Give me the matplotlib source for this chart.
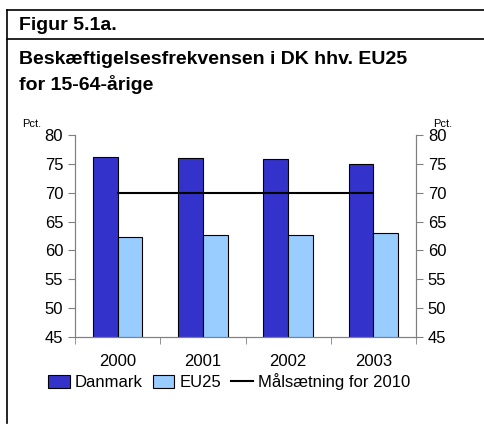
import matplotlib
matplotlib.use('Agg')
import matplotlib.pyplot as plt
import numpy as np
from matplotlib.lines import Line2D

years = ['2000', '2001', '2002', '2003']
danmark = [76.2, 76.1, 75.8, 75.0]
eu25 = [62.4, 62.7, 62.7, 63.0]
target = [70, 70, 70, 70]

plt.rcParams['font.family'] = ['Liberation Sans', 'DejaVu Sans']

W, H = 484, 426
fig = plt.figure(figsize=(W / 100, H / 100), dpi=100)

# frame lines around the figure text
fig.add_artist(Line2D([7 / W, 1], [1 - 10 / H, 1 - 10 / H], color='black', lw=1.2))
fig.add_artist(Line2D([7 / W, 1], [1 - 39 / H, 1 - 39 / H], color='black', lw=1.2))
fig.add_artist(Line2D([7 / W, 7 / W], [1 - 10 / H, 1 - 423 / H], color='black', lw=1.2))

fig.text(19 / W, 1 - 25 / H, 'Figur 5.1a.', fontsize=14, fontweight='bold', va='center')
fig.text(19 / W, 1 - 60 / H, 'Beskæftigelsesfrekvensen i DK hhv. EU25', fontsize=14,
         fontweight='bold', va='center')
fig.text(19 / W, 1 - 84 / H, 'for 15-64-årige', fontsize=14, fontweight='bold', va='center')

ax = fig.add_axes([75 / W, 1 - 337 / H, (416 - 75) / W, (337 - 135) / H])

gray = '#808080'
ind = np.arange(len(years))
width = 0.29
b1 = ax.bar(ind - width / 2, danmark, width, color='#3333CC', edgecolor='black', lw=0.8)
b2 = ax.bar(ind + width / 2, eu25, width, color='#99CCFF', edgecolor='black', lw=0.8)
l1, = ax.plot(ind, target, color='black', lw=1.5)

ax.set_xlim(-0.5, len(years) - 0.5)
ax.set_ylim(45, 80)
ax.set_yticks(np.arange(45, 81, 5))
ax.set_xticks(ind)
ax.set_xticklabels(years, fontsize=12)
ax.set_xticks(np.arange(-0.5, len(years)), minor=True)
ax.tick_params(axis='x', which='major', length=0, pad=12)
ax.tick_params(axis='x', which='minor', length=5, color=gray, direction='out')
ax.tick_params(axis='y', length=5, color=gray, labelsize=12, direction='out')

for s in ['left', 'bottom', 'right']:
    ax.spines[s].set_color(gray)
ax.spines['top'].set_visible(False)

ax2 = ax.twinx()
ax2.set_ylim(45, 80)
ax2.set_yticks(np.arange(45, 81, 5))
ax2.tick_params(axis='y', length=5, color=gray, labelsize=12, direction='out')
for s in ['left', 'bottom', 'right']:
    ax2.spines[s].set_color(gray)
ax2.spines['top'].set_visible(False)

fig.text(22 / W, 1 - 124 / H, 'Pct.', fontsize=8, va='center')
fig.text(433 / W, 1 - 124 / H, 'Pct.', fontsize=8, va='center')

fig.legend([b1, b2, l1], ['Danmark', 'EU25', 'Målsætning for 2010'], loc='center',
           bbox_to_anchor=(229 / W, 1 - 382 / H), ncol=3, frameon=False,
           fontsize=12, handlelength=1.3, handleheight=0.8, handletextpad=0.3,
           columnspacing=0.6)

fig.savefig('out.png', dpi=100)
